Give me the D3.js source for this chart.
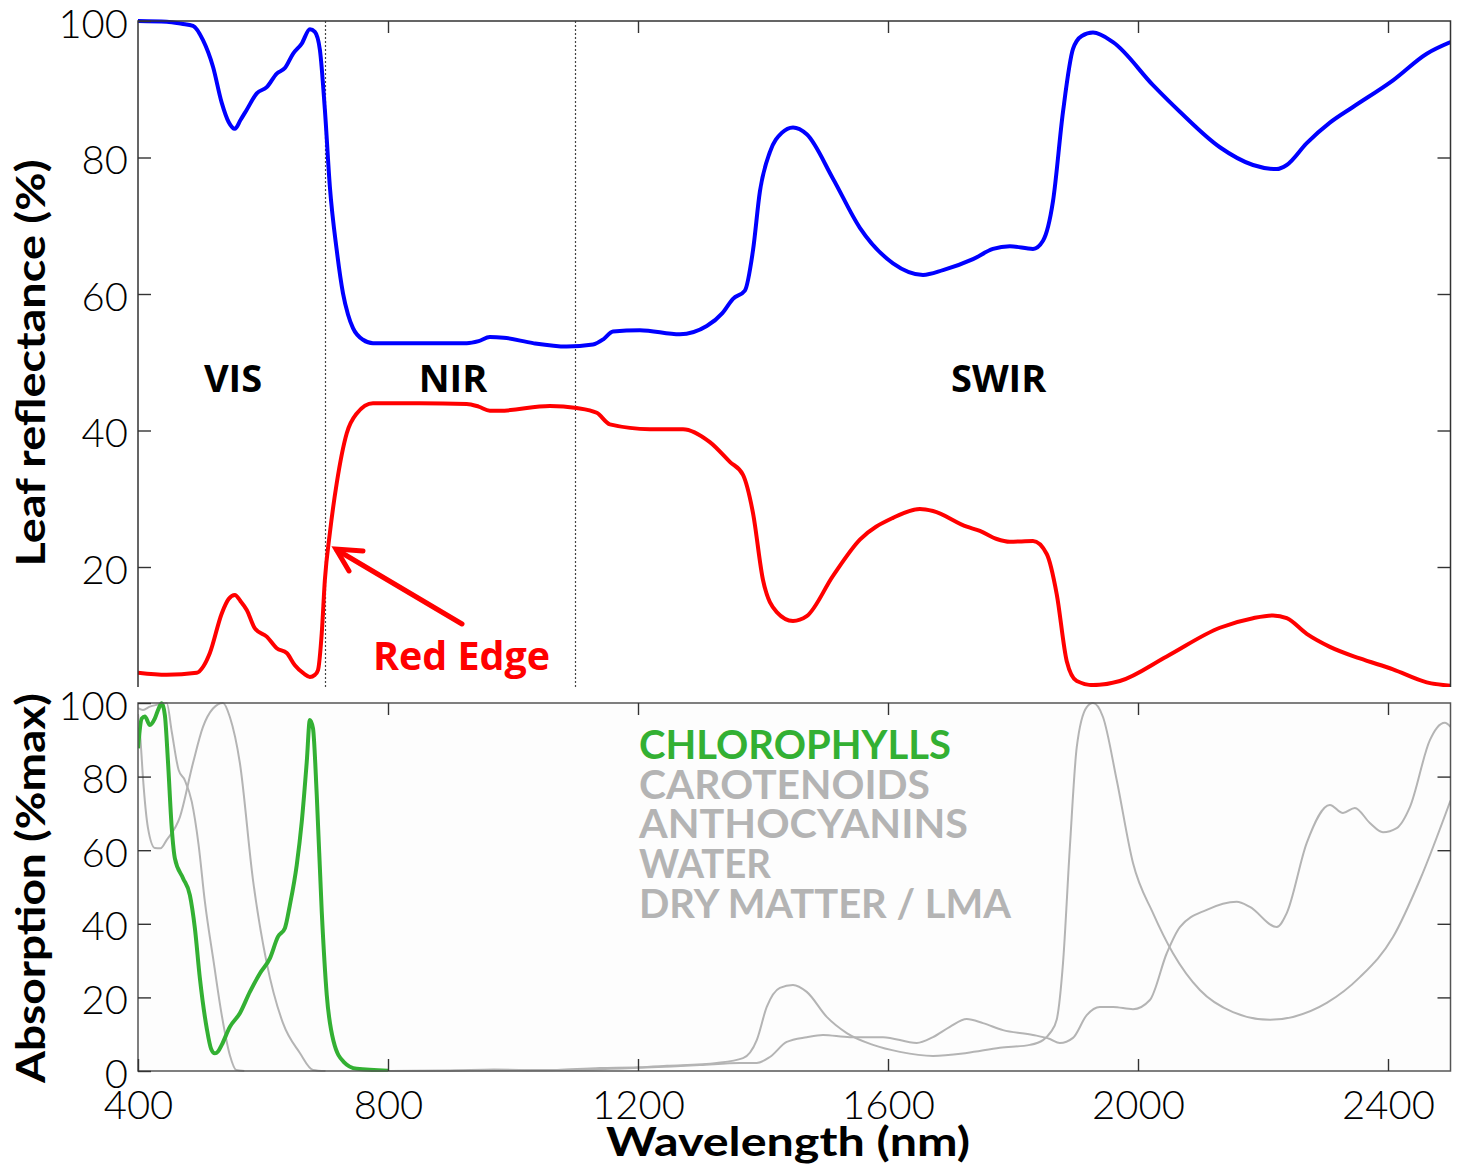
<!DOCTYPE html>
<html>
<head>
<meta charset="utf-8">
<script src="https://cdn.jsdelivr.net/npm/d3@7"></script>
<style>
  body { margin: 0; background: #fff; }
</style>
</head>
<body>
<div id="chart"></div>
<script>
// wavelength (nm), value (%)
const reflectance = [[400,100],[446,99.9],[470,99.6],[488,99.3],[504,97.2],[520,93.3],[534,88],[545,85.2],[555,84.2],[564,85.5],[574,87],[590,89.4],[606,90.3],[622,92.3],[635,93.1],[648,95.2],[662,96.7],[675,98.8],[683,98.4],[691,95.8],[699,87],[707,75.7],[718,66.4],[728,60.1],[736,57],[744,55],[760,53.3],[776,52.8],[850,52.8],[926,52.8],[945,53.1],[963,53.7],[985,53.6],[1032,52.8],[1086,52.3],[1128,52.6],[1145,53.4],[1160,54.5],[1203,54.7],[1267,54.1],[1310,55.3],[1335,57.2],[1352,59.3],[1371,60.5],[1384,66.4],[1395,75],[1411,80.8],[1430,83.6],[1448,84.4],[1470,83.4],[1512,76.9],[1555,69.7],[1608,64.5],[1656,62.8],[1688,63.5],[1736,65.1],[1768,66.6],[1795,67],[1832,66.6],[1848,67.8],[1864,73.6],[1880,86.7],[1896,95.9],[1910,97.8],[1928,98.3],[1960,96.9],[2024,90.6],[2067,86.7],[2131,81.5],[2184,78.9],[2222,78.3],[2238,78.9],[2270,82.1],[2307,85.1],[2344,87.4],[2408,91.3],[2462,95.2],[2500,96.9]];

const redCurve = [[400,4.5],[446,4.2],[494,4.5],[505,5.5],[515,7.4],[534,13.2],[545,15.3],[555,15.9],[564,15],[574,13.7],[587,11],[606,9.8],[622,8.1],[638,7.4],[651,5.6],[665,4.4],[675,3.9],[683,4.2],[688,4.9],[694,10.3],[699,18.1],[707,25],[718,32.3],[734,39.6],[750,42.5],[776,44],[850,44],[926,43.9],[945,43.5],[963,42.9],[979,42.9],[1059,43.6],[1102,43.3],[1134,42.6],[1155,40.9],[1219,40.2],[1272,40.2],[1315,38.3],[1347,35.4],[1368,33.5],[1384,27.9],[1400,18.1],[1422,13.4],[1448,12.1],[1470,12.8],[1512,18.7],[1555,24],[1608,27.2],[1651,28.5],[1672,28.2],[1726,25.9],[1747,25.3],[1774,24.1],[1795,23.7],[1832,23.8],[1854,21.9],[1870,16],[1886,6.2],[1902,3.3],[1928,2.7],[1971,3.3],[2046,6.9],[2131,11.1],[2184,12.5],[2216,12.9],[2238,12.5],[2270,10.2],[2307,8.3],[2355,6.6],[2408,5],[2462,3.1],[2500,2.6]];

const chlorophylls = [[400,87.7],[406,95.8],[411,96.3],[419,94],[427,95.8],[433,98.5],[438,99.9],[443,96.7],[448,84],[454,66],[459,57.8],[472,52.4],[483,47.8],[491,38.8],[499,25.2],[510,11.6],[517,6],[523,4.8],[528,5.3],[534,7.1],[547,12],[563,15.7],[579,21.5],[595,26.5],[611,30.6],[624,36.5],[635,38.8],[643,45.1],[654,56],[662,67.7],[670,84],[675,95.4],[680,93.1],[686,75],[694,43.3],[702,20.7],[713,8],[729,2.5],[750,0.6],[800,0.1]];

const carotenoids = [[400,98.6],[408,98.1],[419,99],[430,99.5],[446,100],[454,92.2],[465,81.8],[475,79],[486,73.2],[497,61.4],[507,46],[521,29.7],[534,15.2],[547,4.3],[557,0.3],[570,0]];

const anthocyanins = [[400,97],[404,90],[408,79.6],[416,66],[427,60.6],[436,60.5],[446,62.8],[467,69],[488,83.7],[504,93.5],[520,98.5],[536,100],[547,96.2],[563,83.7],[584,51.9],[606,29.3],[632,13],[659,4.9],[680,0.3],[700,0]];

const water = [[800,0],[900,0.1],[970,0.4],[1050,0.2],[1139,0.8],[1200,1.0],[1246,1.4],[1326,2.2],[1368,3.5],[1390,8.4],[1406,17.4],[1427,22.6],[1448,23.4],[1470,21.5],[1502,14.7],[1534,10.3],[1576,7.1],[1619,5.2],[1672,4.1],[1726,4.9],[1779,6.3],[1827,7.1],[1848,8.4],[1860,10.5],[1870,14],[1880,29.3],[1891,60.9],[1902,88],[1918,98.9],[1928,100],[1944,96.2],[1966,79],[1992,56.5],[2024,42.9],[2056,32],[2099,22],[2152,16],[2211,13.9],[2248,14.7],[2302,18.5],[2355,25.5],[2408,36.4],[2451,51.9],[2500,73.5]];

const dryMatter = [[800,0],[1000,0.2],[1139,0.5],[1299,1.6],[1363,2.2],[1390,2.2],[1411,3.8],[1438,7.9],[1470,9.2],[1496,9.8],[1539,9.2],[1592,9.2],[1646,7.6],[1672,9.2],[1699,12],[1726,14.1],[1752,13],[1784,11.1],[1832,9.8],[1859,8.7],[1875,7.6],[1896,9],[1918,15.2],[1939,17.4],[1960,17.4],[1992,16.8],[2019,19.3],[2046,32],[2067,39.1],[2110,43.8],[2158,46],[2179,44.6],[2222,39.1],[2238,42.9],[2270,62],[2307,72.3],[2328,70.1],[2347,71.5],[2371,67.4],[2392,64.9],[2414,66],[2435,71.7],[2467,89.9],[2478,93.2],[2491,94.6],[2500,93.5]];

const xTicks = [400, 800, 1200, 1600, 2000, 2400];
const topYTicks = [20, 40, 60, 80, 100];
const bottomYTicks = [0, 20, 40, 60, 80, 100];
const regionBounds = [700, 1100];
const regionNames = ["VIS", "NIR", "SWIR"];
const regionCenters = [552, 904, 1777];
const legendNames = ["CHLOROPHYLLS", "CAROTENOIDS", "ANTHOCYANINS", "WATER", "DRY MATTER / LMA"];

const W = 1461, H = 1168;
const svg = d3.select("#chart").append("svg")
  .attr("width", W).attr("height", H)
  .style("font-family", "Lato, 'DejaVu Sans', sans-serif");

svg.append("rect").attr("width", W).attr("height", H).attr("fill", "#fff");

const x = d3.scaleLinear().domain([400, 2500]).range([138, 1450.5]);
const yTop = d3.scaleLinear().domain([0, 100]).range([703.5, 21]);
const yBot = d3.scaleLinear().domain([0, 100]).range([1071, 703]);
const topBottom = 687;

// clip areas
svg.append("clipPath").attr("id", "clipTop")
  .append("rect").attr("x", 138).attr("y", 15).attr("width", 1312.5).attr("height", topBottom - 15);
svg.append("clipPath").attr("id", "clipBot")
  .append("rect").attr("x", 138).attr("y", 700).attr("width", 1312.5).attr("height", 372);

// ---------- top panel ----------
const lineTop = d3.line().x(d => x(d[0])).y(d => yTop(d[1])).curve(d3.curveMonotoneX);

svg.append("g").selectAll("line").data(regionBounds).join("line")
  .attr("x1", d => x(d)).attr("x2", d => x(d))
  .attr("y1", yTop(100)).attr("y2", topBottom)
  .attr("stroke", "#444").attr("stroke-width", 1.2).attr("stroke-dasharray", "2,2");

const gTop = svg.append("g").attr("clip-path", "url(#clipTop)");
gTop.append("path").datum(reflectance)
  .attr("fill", "none").attr("stroke", "#0000ff").attr("stroke-width", 4)
  .attr("stroke-linejoin", "round").attr("d", lineTop);
gTop.append("path").datum(redCurve)
  .attr("fill", "none").attr("stroke", "#ff0000").attr("stroke-width", 4)
  .attr("stroke-linejoin", "round").attr("d", lineTop);

// frame, open at the bottom
svg.append("path")
  .attr("d", `M${x(400)},${topBottom}V${yTop(100)}H${x(2500)}V${topBottom}`)
  .attr("fill", "none").attr("stroke", "#333").attr("stroke-width", 1.5);

const styleAxis = g => {
  g.select(".domain").remove();
  g.selectAll(".tick line").attr("stroke", "#333").attr("stroke-width", 1.4);
  g.selectAll(".tick text").attr("fill", "#000")
    .style("font-size", "40px").style("font-weight", 300)
    .style("font-family", "Lato, 'DejaVu Sans', sans-serif");
};
const yLabelShift = g => g.selectAll(".tick text").attr("dy", "0.4em");

svg.append("g").attr("transform", `translate(${x(400)},0)`)
  .call(d3.axisLeft(yTop).tickValues(topYTicks).tickSizeInner(-13).tickSizeOuter(0).tickPadding(10))
  .call(styleAxis).call(yLabelShift);
svg.append("g").attr("transform", `translate(${x(2500)},0)`)
  .call(d3.axisRight(yTop).tickValues(topYTicks.slice(0, 4)).tickSizeInner(-13).tickSizeOuter(0).tickFormat(""))
  .call(styleAxis);
svg.append("g").attr("transform", `translate(0,${yTop(100)})`)
  .call(d3.axisTop(x).tickValues(xTicks.slice(1)).tickSizeInner(-12).tickSizeOuter(0).tickFormat(""))
  .call(styleAxis);

// region labels
svg.append("g").selectAll("text").data(regionNames).join("text")
  .attr("x", (d, i) => x(regionCenters[i])).attr("y", 392)
  .attr("text-anchor", "middle")
  .style("font-family", "'Open Sans', sans-serif").style("font-weight", 700).style("font-size", "38px")
  .attr("fill", "#000").text(d => d);

// red edge annotation
svg.append("line")
  .attr("x1", 462).attr("y1", 624).attr("x2", 337).attr("y2", 550)
  .attr("stroke", "#ff0000").attr("stroke-width", 5).attr("stroke-linecap", "round");
svg.append("path")
  .attr("d", "M363,551L336,549L349,571")
  .attr("fill", "none").attr("stroke", "#ff0000").attr("stroke-width", 5)
  .attr("stroke-linecap", "round").attr("stroke-linejoin", "miter");
svg.append("text")
  .attr("x", 373).attr("y", 670)
  .attr("textLength", 177).attr("lengthAdjust", "spacingAndGlyphs")
  .style("font-family", "'Open Sans', sans-serif").style("font-weight", 700).style("font-size", "39px")
  .attr("fill", "#ff0000").text("Red Edge");

// ---------- bottom panel ----------
svg.append("rect")
  .attr("x", x(400)).attr("y", yBot(100))
  .attr("width", x(2500) - x(400)).attr("height", yBot(0) - yBot(100))
  .attr("fill", "#fdfdfd");

const lineBot = d3.line().x(d => x(d[0])).y(d => yBot(d[1])).curve(d3.curveMonotoneX);
const gBot = svg.append("g").attr("clip-path", "url(#clipBot)");
[carotenoids, anthocyanins, water, dryMatter].forEach(s => {
  gBot.append("path").datum(s)
    .attr("fill", "none").attr("stroke", "#b4b4b4").attr("stroke-width", 2)
    .attr("stroke-linejoin", "round").attr("d", lineBot);
});
gBot.append("path").datum(chlorophylls)
  .attr("fill", "none").attr("stroke", "#33b033").attr("stroke-width", 4)
  .attr("stroke-linejoin", "round").attr("d", lineBot);

svg.append("rect")
  .attr("x", x(400)).attr("y", yBot(100))
  .attr("width", x(2500) - x(400)).attr("height", yBot(0) - yBot(100))
  .attr("fill", "none").attr("stroke", "#555").attr("stroke-width", 1.5);

svg.append("g").attr("transform", `translate(${x(400)},0)`)
  .call(d3.axisLeft(yBot).tickValues(bottomYTicks).tickSizeInner(-13).tickSizeOuter(0).tickPadding(10))
  .call(styleAxis).call(yLabelShift);
svg.append("g").attr("transform", `translate(${x(2500)},0)`)
  .call(d3.axisRight(yBot).tickValues(bottomYTicks.slice(1, 5)).tickSizeInner(-13).tickSizeOuter(0).tickFormat(""))
  .call(styleAxis);
svg.append("g").attr("transform", `translate(0,${yBot(100)})`)
  .call(d3.axisTop(x).tickValues(xTicks.slice(1)).tickSizeInner(-12).tickSizeOuter(0).tickFormat(""))
  .call(styleAxis);
svg.append("g").attr("transform", `translate(0,${yBot(0)})`)
  .call(d3.axisBottom(x).tickValues(xTicks).tickSizeInner(-12).tickSizeOuter(0).tickPadding(20).tickFormat(d3.format("d")))
  .call(styleAxis);

// legend
const legendWidths = [312, 291, 329, 132, 372];
svg.append("g").selectAll("text").data(legendNames).join("text")
  .attr("x", 639).attr("y", (d, i) => 759 + i * 39.7)
  .attr("textLength", (d, i) => legendWidths[i]).attr("lengthAdjust", "spacingAndGlyphs")
  .style("font-family", "Lato, sans-serif").style("font-weight", 700).style("font-size", "41px")
  .attr("fill", (d, i) => i === 0 ? "#33b033" : "#b4b4b4")
  .text(d => d);

// axis titles
const titleStyle = t => t.style("font-family", "Lato, 'DejaVu Sans', sans-serif")
  .style("font-weight", 700).style("font-size", "40px").attr("fill", "#000")
  .attr("text-anchor", "middle");

svg.append("text")
  .attr("transform", "translate(45,363) rotate(-90)")
  .attr("textLength", 407).attr("lengthAdjust", "spacingAndGlyphs")
  .call(titleStyle).text("Leaf reflectance (%)");
svg.append("text")
  .attr("transform", "translate(45,888) rotate(-90)")
  .attr("textLength", 390).attr("lengthAdjust", "spacingAndGlyphs")
  .call(titleStyle).text("Absorption (%max)");
svg.append("text")
  .attr("x", 788).attr("y", 1156)
  .attr("textLength", 364).attr("lengthAdjust", "spacingAndGlyphs")
  .call(titleStyle).text("Wavelength (nm)");
</script>
</body>
</html>
